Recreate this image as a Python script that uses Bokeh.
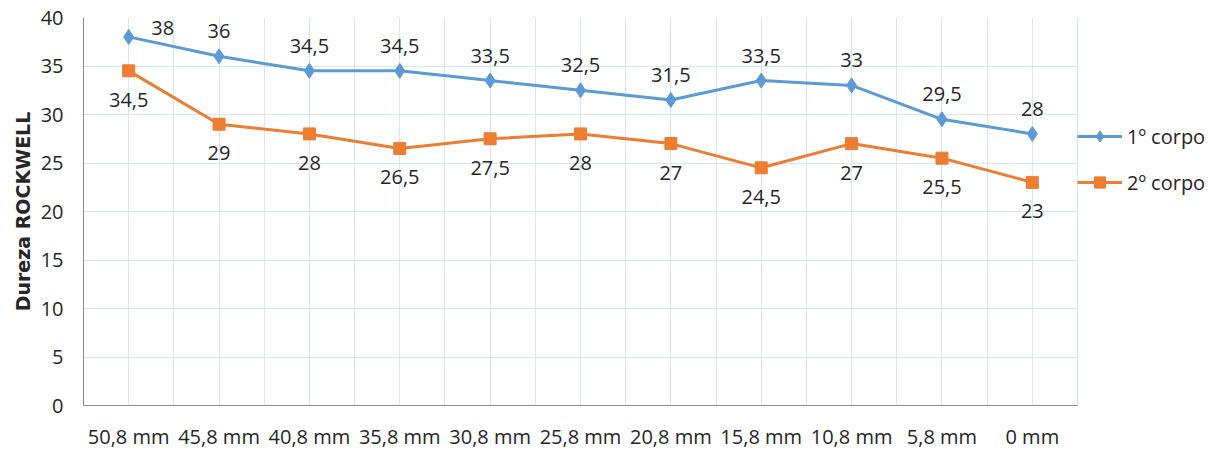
from bokeh.plotting import figure
from bokeh.models import (Range1d, FixedTicker, Legend, LegendItem, ColumnDataSource)
from bokeh.embed import file_html
from bokeh.resources import INLINE
from bokeh.core.properties import value

# Rockwell hardness measured along the piece, two specimens
positions = ["50,8 mm", "45,8 mm", "40,8 mm", "35,8 mm", "30,8 mm", "25,8 mm",
             "20,8 mm", "15,8 mm", "10,8 mm", "5,8 mm", "0 mm"]
corpo1 = [38, 36, 34.5, 34.5, 33.5, 32.5, 31.5, 33.5, 33, 29.5, 28]
corpo2 = [34.5, 29, 28, 26.5, 27.5, 28, 27, 24.5, 27, 25.5, 23]
series_names = ["1º corpo", "2º corpo"]
y_ticks = [0, 5, 10, 15, 20, 25, 30, 35, 40]

BLUE = "#5B9BD5"
ORANGE = "#ED7D31"
GRID = "#D9E5F4"
AXIS = "#8C8C8C"
TEXT = "#262626"
FONT = "Open Sans"

W, H = 1223, 452
LEFT = 83            # left edge of the plotting area
PLOT_W = 994         # width of the category area
n = len(positions)
xs = [i + 0.5 for i in range(n)]
# the frame runs to the right edge so the legend can sit beside the data area
x_end = n * (W - LEFT) / PLOT_W


def fmt(v):
    return ("%g" % v).replace(".", ",")


p = figure(width=W, height=H, output_backend="svg", toolbar_location=None,
           x_range=Range1d(0, x_end), y_range=Range1d(0, 40),
           min_border_left=LEFT, min_border_right=0, min_border_top=17,
           min_border_bottom=46)
p.outline_line_color = None
p.background_fill_color = "white"
p.border_fill_color = "white"

# grid lines at category centres and category boundaries
p.xgrid.ticker = FixedTicker(ticks=[i * 0.5 for i in range(2 * n + 1)])
p.xgrid.grid_line_color = GRID
p.ygrid.ticker = FixedTicker(ticks=y_ticks)
p.ygrid.grid_line_color = GRID
p.ygrid.cross_bounds = (0, n)

p.xaxis.ticker = FixedTicker(ticks=xs)
p.xaxis.bounds = (0, n)
p.xaxis.major_label_overrides = {x: lab for x, lab in zip(xs, positions)}
p.yaxis.ticker = FixedTicker(ticks=y_ticks)

for ax in (p.xaxis[0], p.yaxis[0]):
    ax.axis_line_color = AXIS
    ax.major_tick_line_color = None
    ax.minor_tick_line_color = None
    ax.major_tick_out = 0
    ax.major_tick_in = 0
    ax.minor_tick_out = 0
    ax.major_label_text_font = FONT
    ax.major_label_text_font_size = "20px"
    ax.major_label_text_color = TEXT

p.xaxis.major_label_standoff = 17
p.yaxis.major_label_standoff = 20
p.yaxis.axis_label = "Dureza ROCKWELL"
p.yaxis.axis_label_text_font = "DejaVu Sans"
p.yaxis.axis_label_text_font_style = "bold"
p.yaxis.axis_label_text_font_size = "19px"
p.yaxis.axis_label_text_color = TEXT
p.yaxis.axis_label_standoff = 4

src1 = ColumnDataSource(dict(x=xs, y=corpo1, lab=[fmt(v) for v in corpo1],
                             dx=[34] + [0] * (n - 1), dy=[-9] + [-25] * (n - 1)))
src2 = ColumnDataSource(dict(x=xs, y=corpo2, lab=[fmt(v) for v in corpo2],
                             dx=[0] * n, dy=[29] * n))

l1 = p.line("x", "y", source=src1, line_color=BLUE, line_width=3)
m1 = p.scatter("x", "y", source=src1, marker="diamond", size=15,
               fill_color=BLUE, line_color=BLUE)
l2 = p.line("x", "y", source=src2, line_color=ORANGE, line_width=3)
m2 = p.scatter("x", "y", source=src2, marker="square", size=12,
               fill_color=ORANGE, line_color=ORANGE)

for src in (src1, src2):
    p.text("x", "y", text="lab", source=src, x_offset="dx", y_offset="dy",
           text_font=value(FONT), text_font_size="20px", text_color=TEXT,
           text_align="center", text_baseline="middle")

legend = Legend(items=[LegendItem(label=series_names[0], renderers=[l1, m1]),
                       LegendItem(label=series_names[1], renderers=[l2, m2])],
                location=(PLOT_W, 209), orientation="vertical",
                glyph_width=45, glyph_height=28, label_height=28,
                spacing=18, padding=0, margin=0, label_standoff=5,
                label_text_font=FONT, label_text_font_size="20px",
                label_text_color=TEXT, label_text_baseline="middle",
                border_line_color=None, background_fill_alpha=0)
p.add_layout(legend, "center")

open("out.html", "w").write(file_html(p, INLINE))
